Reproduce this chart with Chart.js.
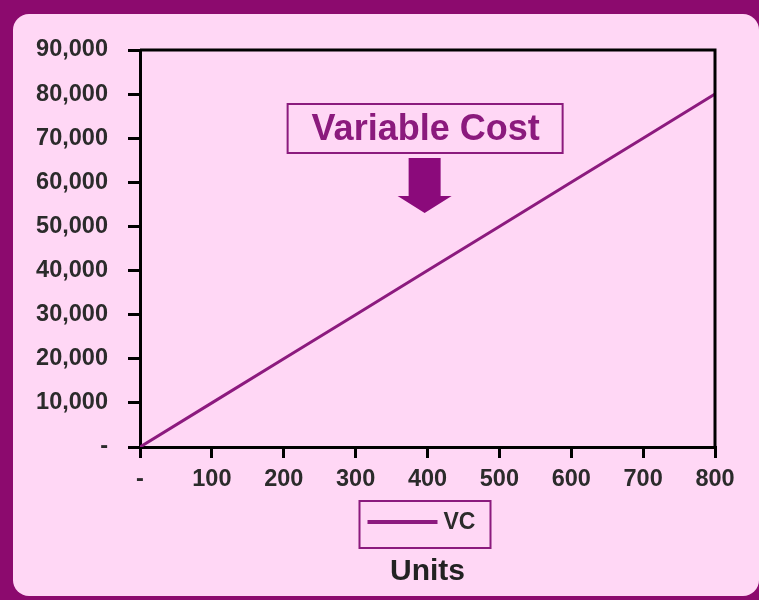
<!DOCTYPE html>
<html>
<head>
<meta charset="utf-8">
<title>Variable Cost</title>
<script src="https://cdn.jsdelivr.net/npm/chart.js@4.4.1/dist/chart.umd.min.js"></script>
<style>
  html, body { margin: 0; padding: 0; }
  body { width: 759px; height: 600px; background: #8c0a6e; position: relative; overflow: hidden; }
  #panel { position: absolute; left: 13px; top: 14px; width: 746px; height: 582px; background: #ffd7f5; border-radius: 16px; }
  #canvas { position: absolute; left: 0; top: 0; }
</style>
</head>
<body>
<div id="panel"></div>
<canvas id="canvas" width="759" height="600"></canvas>
<script>
// units on the x axis, variable cost at each point
var units = [0, 100, 200, 300, 400, 500, 600, 700, 800];
var vc = [0, 10000, 20000, 30000, 40000, 50000, 60000, 70000, 80000];
var yTicks = [0, 10000, 20000, 30000, 40000, 50000, 60000, 70000, 80000, 90000];
var xTicks = [0, 100, 200, 300, 400, 500, 600, 700, 800];

var purple = '#8b1a7d';
var font = '"Liberation Sans", Arial, sans-serif';

function fmt(v) {
  return v === 0 ? '-' : v.toLocaleString('en-US');
}

// black frame on top/right, the "Variable Cost" callout and the boxed legend
var extras = {
  id: 'extras',
  afterDraw: function(chart) {
    var ctx = chart.ctx;
    var a = chart.chartArea;
    ctx.save();
    ctx.strokeStyle = '#000';
    ctx.lineWidth = 3;
    ctx.beginPath();
    ctx.moveTo(a.left, a.top);
    ctx.lineTo(a.right, a.top);
    ctx.lineTo(a.right, a.bottom);
    ctx.stroke();

    // callout box
    var cx = a.left + (a.right - a.left) * 0.495;
    ctx.lineWidth = 2;
    ctx.strokeStyle = purple;
    ctx.strokeRect(cx - 137, 104, 275, 49);
    ctx.fillStyle = purple;
    ctx.font = 'bold 36px ' + font;
    ctx.textAlign = 'center';
    ctx.textBaseline = 'middle';
    ctx.fillText('Variable Cost', cx + 1, 130);

    // arrow
    ctx.fillStyle = '#8b0a7b';
    ctx.beginPath();
    ctx.moveTo(cx - 16, 158);
    ctx.lineTo(cx + 16, 158);
    ctx.lineTo(cx + 16, 196);
    ctx.lineTo(cx + 27, 196);
    ctx.lineTo(cx, 213);
    ctx.lineTo(cx - 27, 196);
    ctx.lineTo(cx - 16, 196);
    ctx.closePath();
    ctx.fill();

    // legend
    var ds = chart.data.datasets[0];
    var lx = a.left + (a.right - a.left) / 2 - 3;
    ctx.lineWidth = 2;
    ctx.strokeStyle = purple;
    ctx.strokeRect(lx - 65, 501, 131, 47);
    ctx.strokeStyle = ds.borderColor;
    ctx.lineWidth = 4;
    ctx.beginPath();
    ctx.moveTo(lx - 57, 522);
    ctx.lineTo(lx + 13, 522);
    ctx.stroke();
    ctx.fillStyle = '#2b2b2b';
    ctx.font = 'bold 23px ' + font;
    ctx.textAlign = 'left';
    ctx.fillText(ds.label, lx + 19, 523);
    ctx.restore();
  }
};

var ctx = document.getElementById('canvas').getContext('2d');
window.my_chart = new Chart(ctx, {
  type: 'line',
  data: {
    datasets: [{
      label: 'VC',
      data: units.map(function(u, i) { return { x: u, y: vc[i] }; }),
      borderColor: '#8c1a7e',
      borderWidth: 3,
      pointRadius: 0,
      tension: 0,
      fill: false
    }]
  },
  options: {
    responsive: false,
    animation: false,
    layout: { padding: { top: 50, right: 44, bottom: 0, left: 0 } },
    plugins: {
      legend: { display: false },
      tooltip: { enabled: false }
    },
    scales: {
      x: {
        type: 'linear',
        min: 0,
        max: 800,
        afterFit: function(s) { s.height = 153; },
        afterBuildTicks: function(s) { s.ticks = xTicks.map(function(v) { return { value: v }; }); },
        ticks: {
          callback: fmt,
          color: '#2b2b2b',
          padding: 7,
          maxRotation: 0,
          font: { family: font, size: 23.5, weight: 'bold' }
        },
        grid: { drawOnChartArea: false, drawTicks: true, tickLength: 11, color: '#000', lineWidth: 3 },
        border: { display: true, color: '#000', width: 3 },
        title: {
          display: true,
          text: 'Units',
          color: '#222',
          padding: { top: 0, bottom: 10 },
          font: { family: font, size: 30, weight: 'bold' }
        }
      },
      y: {
        min: 0,
        max: 90000,
        afterFit: function(s) { s.width = 140; },
        afterBuildTicks: function(s) { s.ticks = yTicks.map(function(v) { return { value: v }; }); },
        ticks: {
          callback: fmt,
          color: '#2b2b2b',
          padding: 20,
          font: { family: font, size: 23.5, weight: 'bold' }
        },
        grid: { drawOnChartArea: false, drawTicks: true, tickLength: 12, color: '#000', lineWidth: 3 },
        border: { display: true, color: '#000', width: 3 }
      }
    }
  },
  plugins: [extras]
});
</script>
</body>
</html>
